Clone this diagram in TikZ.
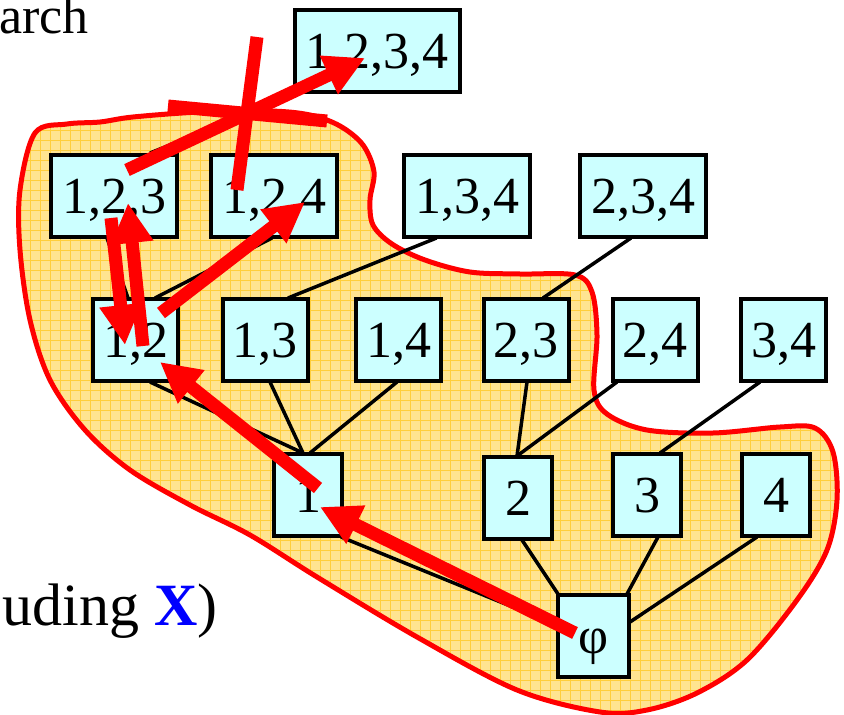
\documentclass[tikz,border=0pt]{standalone}
\usepackage{fontspec}
\setmainfont{Liberation Serif}
\usetikzlibrary{arrows.meta,calc}
\definecolor{boxcyan}{RGB}{204,255,255}
\definecolor{blobfill}{RGB}{255,228,145}
\definecolor{blobgrid}{RGB}{255,206,60}
\definecolor{xblue}{RGB}{0,0,255}
\definecolor{mred}{RGB}{255,0,0}
\def\blobpath{plot[smooth cycle, tension=0.55] coordinates {
 (20,190) (35,133) (67,124) (100,122) (133,117) (200,112) (270,111) (310,115)
 (340,126) (363,145) (374,172) (370,200) (373,225) (392,244) (425,260) (470,272)
 (520,274) (575,275) (592,292) (597,335) (594,390) (607,414) (647,430) (713,433)
 (780,427) (815,428) (833,452) (837,500) (827,550) (797,600) (747,660) (697,693)
 (647,710) (600,712) (517,690) (417,637) (317,577) (250,535) (190,505) (130,470)
 (85,430) (50,380) (30,320) (20,250)}}
\begin{document}
\begin{tikzpicture}[x=1pt,y=-1pt,
  box/.style={draw=black, line width=4pt, fill=boxcyan, inner sep=0pt,
    text height=35pt, text depth=0pt, minimum height=82pt,
    font=\fontsize{52pt}{52pt}\selectfont},
  tri/.style={box, minimum width=126pt},
  pair/.style={box, minimum width=85pt},
  single/.style={box, minimum width=68pt},
  edge/.style={draw=black, line width=3.5pt},
  redarrow/.style={draw=mred, line width=13pt, -{Triangle[length=40pt,width=40pt]}},
  redmark/.style={draw=mred, line width=13pt},
  bigtext/.style={inner sep=0pt, anchor=base east}]
\useasboundingbox (0,0) rectangle (844,715);
\clip (0,0) rectangle (844,715);
% blob
\begin{scope}
  \clip \blobpath;
  \fill[blobfill] (0,0) rectangle (844,715);
  \draw[blobgrid, line width=0.6pt, step=10pt] (0,0) grid (844,715);
\end{scope}
\draw[mred, line width=5pt] \blobpath;
% texts
\node[bigtext, font=\fontsize{52pt}{52pt}\selectfont] (tarch) at (89,33) {arch};
\node[bigtext, font=\fontsize{60pt}{60pt}\selectfont] (tincl) at (218,625) {uding \textcolor{xblue}{\textbf{X}})};
% boxes
\node[box, minimum width=165pt] (b1234) at (377,50.5) {1,2,3,4};
\node[tri] (b123) at (114,195.5) {1,2,3};
\node[tri] (b124) at (274,195.5) {1,2,4};
\node[tri] (b134) at (467,195.5) {1,3,4};
\node[tri] (b234) at (643,195.5) {2,3,4};
\node[pair] (b12) at (135.5,340) {1,2};
\node[pair] (b13) at (265,340) {1,3};
\node[pair] (b14) at (398.5,340) {1,4};
\node[pair] (b23) at (526,340) {2,3};
\node[pair] (b24) at (655,340) {2,4};
\node[pair] (b34) at (783.5,340) {3,4};
\node[single] (b1) at (308,495) {1};
\node[single] (b2) at (518,498) {2};
\node[single] (b3) at (647,495) {3};
\node[single] (b4) at (776,495) {4};
\node[box, minimum width=71pt] (bphi) at (593.5,636) {φ};
% edges
\draw[edge] ($(b123.center)+(36,-42.5)$) -- ($(b1234.center)+(-77,42.5)$);
\draw[edge] ($(b123.center)+(-7,42.5)$) -- ($(b12.center)+(-7.5,-42)$);
\draw[edge] ($(b124.center)+(-2,42.5)$) -- ($(b12.center)+(19.5,-42)$);
\draw[edge] ($(b134.center)+(-30.5,42.5)$) -- ($(b13.center)+(23,-42)$);
\draw[edge] ($(b234.center)+(-12,42.5)$) -- ($(b23.center)+(17,-42)$);
\draw[edge] ($(b12.center)+(14.5,42)$) -- ($(b1.center)+(-5,-42)$);
\draw[edge] ($(b13.center)+(5,42)$) -- ($(b1.center)+(-5,-42)$);
\draw[edge] ($(b14.center)+(-1.5,42)$) -- ($(b1.center)+(2,-42)$);
\draw[edge] ($(b23.center)+(1,42)$) -- ($(b2.center)+(-1,-42)$);
\draw[edge] ($(b24.center)+(-38,42)$) -- ($(b2.center)+(-1,-42)$);
\draw[edge] ($(b34.center)+(-23.5,42)$) -- ($(b3.center)+(13,-42)$);
\draw[edge] ($(b1.center)+(33,42)$) -- ($(bphi.center)+(-36.5,-11)$);
\draw[edge] ($(b2.center)+(4,42)$) -- ($(bphi.center)+(-35.5,-42)$);
\draw[edge] ($(b3.center)+(11,42)$) -- ($(bphi.center)+(33.5,-42)$);
\draw[edge] ($(b4.center)+(-19,42)$) -- ($(bphi.center)+(36.5,-14)$);
% red marks
\draw[redmark] (257,37) -- (237,190);
\draw[redmark] (168,106) -- (327,121);
\draw[redarrow] ($(b123.center)+(13,-25.5)$) -- ($(b1234.center)+(-12,7.5)$);
\draw[redarrow] ($(b123.center)+(-3,22.5)$) -- ($(b12.center)+(-10.5,5)$);
\draw[redarrow] ($(b12.center)+(7.5,6)$) -- ($(b123.center)+(14,7.5)$);
\draw[redarrow] ($(b12.center)+(25.5,-27)$) -- ($(b124.center)+(31,6.5)$);
\draw[redarrow] ($(b1.center)+(10,-7)$) -- ($(b12.center)+(24.5,22)$);
\draw[redarrow] ($(bphi.center)+(-18.5,-3)$) -- ($(b1.center)+(12,12)$);
\end{tikzpicture}
\end{document}
